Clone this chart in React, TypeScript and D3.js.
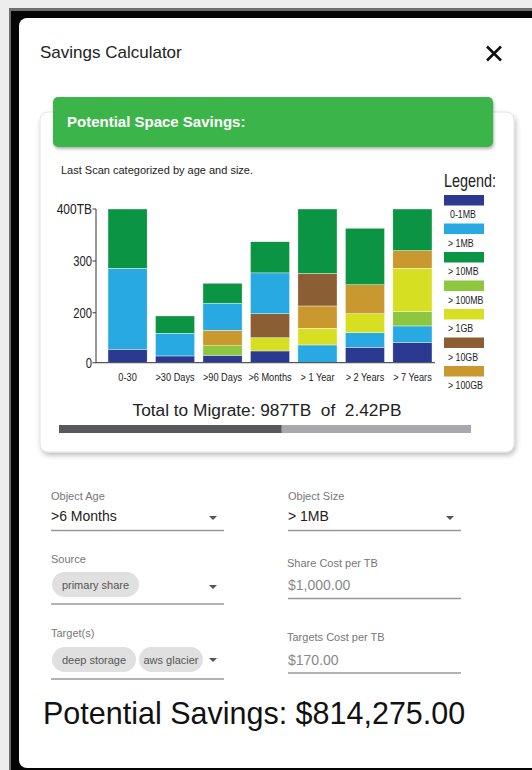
import React from "react";
import * as d3 from "d3";

// chart data
const ages = ["0-30", ">30 Days", ">90 Days", ">6 Months", "> 1 Year", "> 2 Years", "> 7 Years"];
const sizes = ["0-1MB", "> 1MB", "> 10MB", "> 100MB", "> 1GB", "> 10GB", "> 100GB"];
const sizeColors = ["#2b3990", "#29a9e1", "#0b9444", "#8dc63f", "#d7df23", "#8b5e34", "#c9982e"];

// TB per size class, one value per age bucket
const mb0to1 = [54, 27, 30, 47, 0, 62, 80];
const mb1 = [232, 91, 88, 81, 71, 58, 67];
const mb10 = [114, 69, 39, 60, 124, 109, 80];
const mb100 = [0, 0, 38, 0, 0, 0, 55];
const gb1 = [0, 0, 0, 53, 67, 76, 84];
const gb10 = [0, 0, 0, 96, 63, 0, 0];
const gb100 = [0, 0, 62, 0, 75, 58, 34];
const seriesValues = [mb0to1, mb1, mb10, mb100, gb1, gb10, gb100];

// stacking order (bottom to top) for each age bucket
const stackOrder = [
  [0, 1, 2],
  [0, 1, 2],
  [0, 3, 6, 1, 2],
  [0, 4, 5, 1, 2],
  [1, 4, 6, 5, 2],
  [0, 1, 4, 6, 2],
  [0, 1, 3, 4, 6, 2],
];

// the axis in the mockup is not linear: 0..200 is squeezed
const yTicks = [0, 200, 300, 400];
const yTickLabels = ["0", "200", "300", "400TB"];

// progress bar as drawn (percent filled)
const progressDone = 54;
const progressTotal = 100;

const FONT = "'Liberation Sans', Arial, sans-serif";

const Narrow = ({ x, y, size, anchor = "start", children, fill = "#222" }: any) => (
  <text
    transform={`translate(${x},${y}) scale(0.8,1)`}
    fontSize={size}
    textAnchor={anchor}
    fill={fill}
    fontFamily={FONT}
  >
    {children}
  </text>
);

const Arrow = ({ x, y }: any) => (
  <path d={`M${x - 4},${y - 2} L${x + 4},${y - 2} L${x},${y + 2} Z`} fill="#555" />
);

const Chip = ({ x, y, w, label }: any) => (
  <g>
    <rect x={x} y={y} width={w} height={25} rx={12.5} fill="#e0e0e0" />
    <text x={x + w / 2} y={y + 17} textAnchor="middle" fontSize={11} fill="#555" fontFamily={FONT}>
      {label}
    </text>
  </g>
);

const StackChart = () => {
  const x = d3.scaleBand().domain(ages).range([108, 432]).paddingInner(0.176).paddingOuter(0);
  const y = d3.scaleLinear().domain(yTicks).range([362.7, 312.7, 261, 209]);

  const segments = ages.flatMap((age, i) => {
    const vals = stackOrder[i].map((s) => seriesValues[s][i]);
    const tops = d3.cumsum(vals);
    return stackOrder[i].map((s, k) => ({
      age,
      series: s,
      y0: tops[k] - vals[k],
      y1: tops[k],
    }));
  });

  return (
    <g>
      {segments.map((d, i) => (
        <rect
          key={i}
          x={x(d.age)}
          y={y(d.y1)}
          width={x.bandwidth()}
          height={y(d.y0) - y(d.y1)}
          fill={sizeColors[d.series]}
          stroke="#f4fff4"
          strokeWidth={0.4}
        />
      ))}
      <line x1={96} x2={96} y1={y(400)} y2={y(0)} stroke="#555" strokeWidth={1.2} />
      <line x1={96} x2={435} y1={y(0)} y2={y(0)} stroke="#555" strokeWidth={1.2} />
      {yTicks.map((t, i) => (
        <g key={t}>
          <line x1={92.5} x2={96} y1={y(t)} y2={y(t)} stroke="#555" strokeWidth={1.2} />
          <Narrow x={92} y={y(t) + 5} size={i === 3 ? 15 : 14} anchor="end">
            {yTickLabels[i]}
          </Narrow>
        </g>
      ))}
      {ages.map((a) => (
        <Narrow key={a} x={(x(a) as number) + x.bandwidth() / 2} y={381} size={11.5} anchor="middle">
          {a}
        </Narrow>
      ))}
      <Narrow x={444} y={187} size={18}>
        Legend:
      </Narrow>
      {sizes.map((s, i) => (
        <g key={s}>
          <rect x={444} y={195 + i * 28.5} width={40} height={10.5} fill={sizeColors[i]} />
          <Narrow x={i === 0 ? 450 : 448} y={218 + i * 28.5} size={11}>
            {s}
          </Narrow>
        </g>
      ))}
    </g>
  );
};

const App = () => {
  const bar = d3.scaleLinear().domain([0, progressTotal]).range([59, 471]);

  return (
    <div style={{ position: "absolute", left: 0, top: 0 }}>
      <svg width={532} height={770} style={{ display: "block" }}>
        <defs>
          <filter id="cardShadow" x="-10%" y="-10%" width="120%" height="125%">
            <feDropShadow dx={1.5} dy={3} stdDeviation={2.5} floodColor="#000" floodOpacity={0.25} />
          </filter>
          <filter id="headShadow" x="-10%" y="-20%" width="120%" height="160%">
            <feDropShadow dx={1} dy={2} stdDeviation={1.5} floodColor="#000" floodOpacity={0.3} />
          </filter>
        </defs>
        {/* page frame */}
        <rect x={0} y={0} width={532} height={770} fill="#ededed" />
        <rect x={9} y={8} width={540} height={790} fill="#6d6e70" />
        <rect x={11} y={11} width={540} height={790} fill="#050505" />
        <rect x={19} y={18} width={540} height={750} rx={8} fill="#fff" />

        <text x={40} y={58} fontSize={17} fill="#222" fontFamily={FONT}>
          Savings Calculator
        </text>
        <path d="M487,46.5 L501,60.5 M501,46.5 L487,60.5" stroke="#111" strokeWidth={2.6} />

        {/* chart card */}
        <rect x={40} y={112} width={474} height={340} rx={8} fill="#fff" stroke="#e2e2e2" filter="url(#cardShadow)" />
        <rect x={53} y={97} width={440} height={50} rx={5} fill="#3bb44a" filter="url(#headShadow)" />
        <text x={67} y={127} fontSize={15} fontWeight="bold" fill="#fff" fontFamily={FONT}>
          Potential Space Savings:
        </text>
        <text x={61} y={174} fontSize={11} fill="#222" fontFamily={FONT}>
          Last Scan categorized by age and size.
        </text>

        <StackChart />

        <text x={267} y={416} fontSize={17.3} textAnchor="middle" fill="#222" fontFamily={FONT} style={{ whiteSpace: "pre" }}>
          {"Total to Migrate: 987TB  of  2.42PB"}
        </text>
        <rect x={bar(0)} y={425} width={bar(progressTotal) - bar(0)} height={8} fill="#a7a9ac" />
        <rect x={bar(0)} y={425} width={bar(progressDone) - bar(0)} height={8} fill="#58595b" />

        {/* form fields */}
        <g fontFamily={FONT}>
          <text x={51} y={500} fontSize={11} fill="#777">Object Age</text>
          <text x={51} y={521} fontSize={14} fill="#222">&gt;6 Months</text>
          <Arrow x={213} y={518} />
          <line x1={51} x2={224} y1={530.5} y2={530.5} stroke="#999" strokeWidth={1.5} />

          <text x={288} y={500} fontSize={11} fill="#777">Object Size</text>
          <text x={288} y={521} fontSize={14} fill="#222">&gt; 1MB</text>
          <Arrow x={450} y={518} />
          <line x1={288} x2={461} y1={530.5} y2={530.5} stroke="#999" strokeWidth={1.5} />

          <text x={51} y={563} fontSize={11} fill="#777">Source</text>
          <Chip x={52} y={572} w={87} label="primary share" />
          <Arrow x={213} y={587} />
          <line x1={51} x2={224} y1={604} y2={604} stroke="#999" strokeWidth={1.5} />

          <text x={287} y={567} fontSize={11} fill="#777">Share Cost per TB</text>
          <text x={288} y={590} fontSize={14} fill="#888">$1,000.00</text>
          <line x1={288} x2={461} y1={598.5} y2={598.5} stroke="#999" strokeWidth={1.5} />

          <text x={51} y={637} fontSize={11} fill="#777">Target(s)</text>
          <Chip x={52} y={647} w={84} label="deep storage" />
          <Chip x={139} y={647} w={64} label="aws glacier" />
          <Arrow x={213} y={660} />
          <line x1={51} x2={224} y1={679} y2={679} stroke="#999" strokeWidth={1.5} />

          <text x={287} y={641} fontSize={11} fill="#777">Targets Cost per TB</text>
          <text x={288} y={665} fontSize={14} fill="#888">$170.00</text>
          <line x1={288} x2={461} y1={673} y2={673} stroke="#999" strokeWidth={1.5} />

          <text x={43} y={724} fontSize={30.5} fill="#111">Potential Savings: $814,275.00</text>
        </g>
      </svg>
    </div>
  );
};

export default App;
